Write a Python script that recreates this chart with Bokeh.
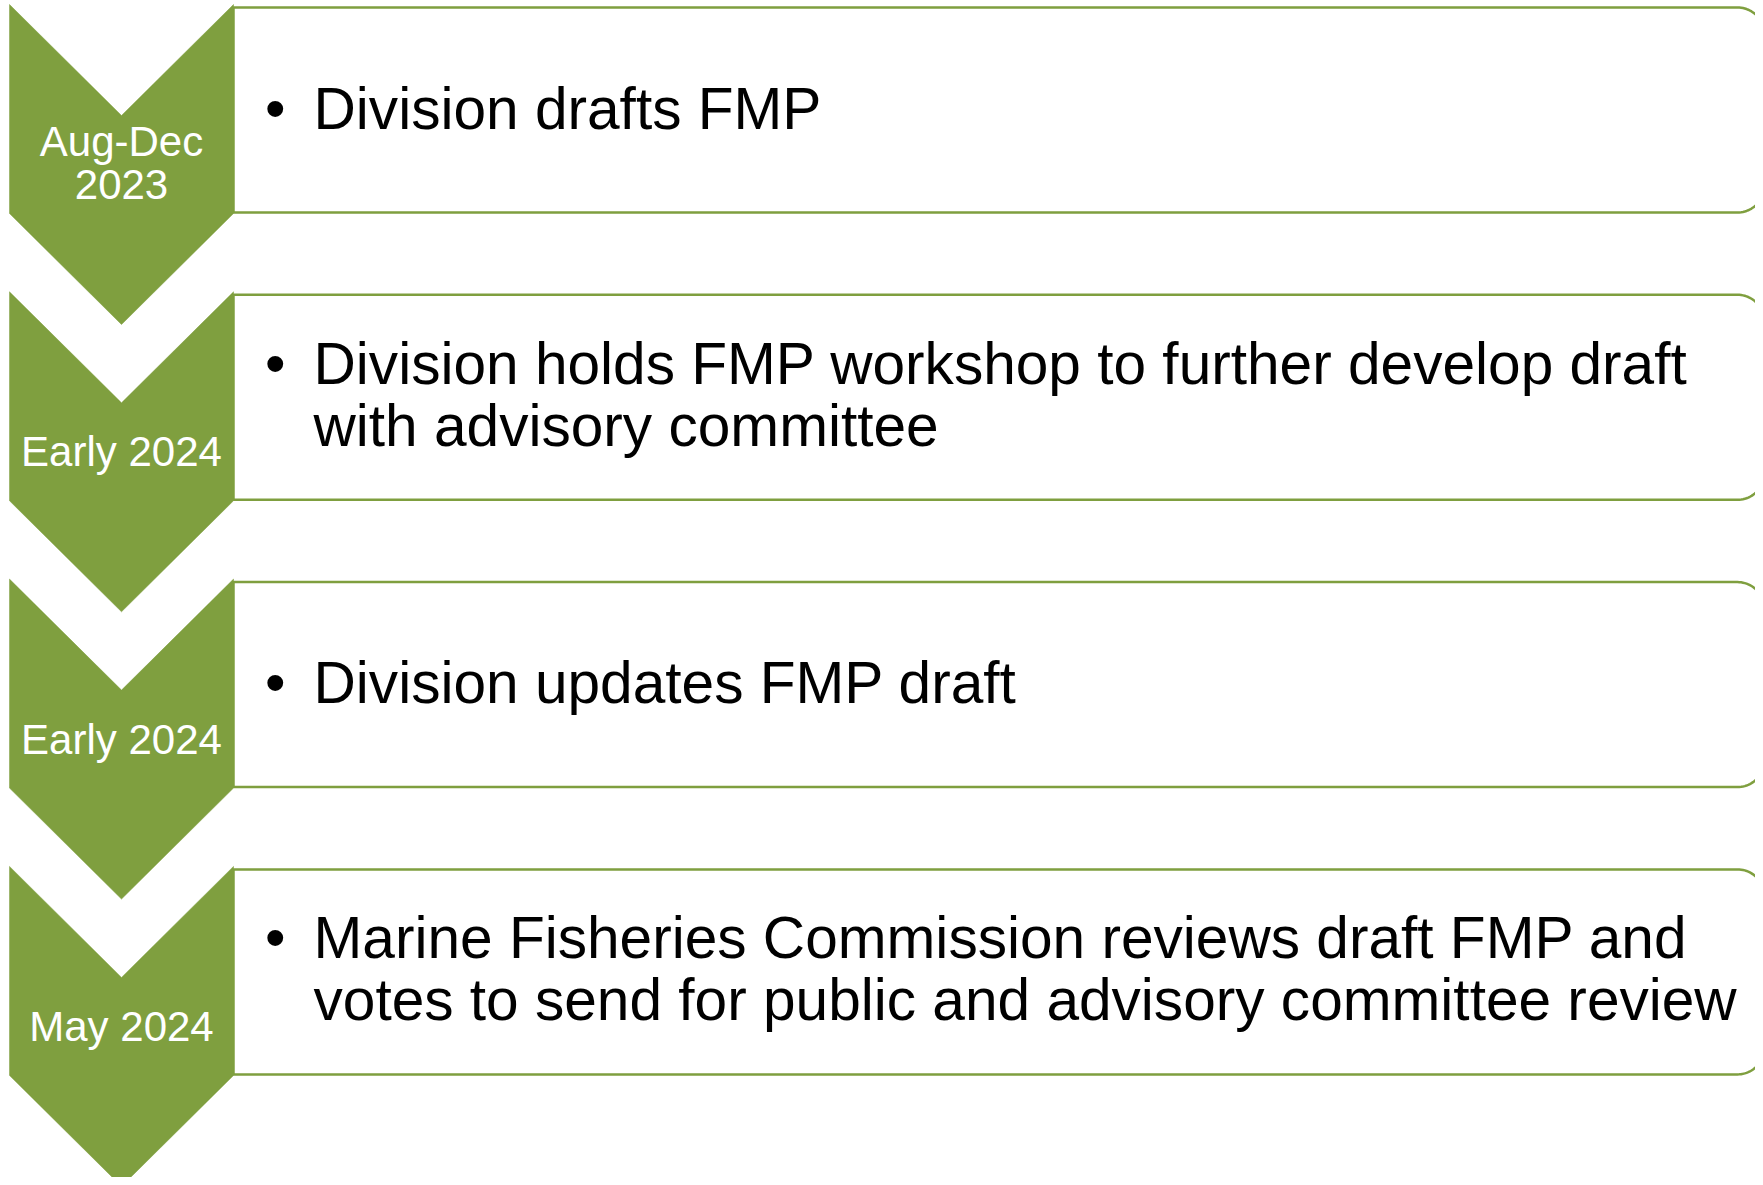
import numpy as np
from bokeh.plotting import figure
from bokeh.models import Range1d
from bokeh.core.properties import value
from bokeh.embed import file_html
from bokeh.resources import INLINE

# ---- content ----
periods = ["Aug-Dec\n2023", "Early 2024", "Early 2024", "May 2024"]
actions = [
    "Division drafts FMP",
    "Division holds FMP workshop to further develop draft\nwith advisory committee",
    "Division updates FMP draft",
    "Marine Fisheries Commission reviews draft FMP and\nvotes to send for public and advisory committee review",
]

# ---- style / layout ----
GREEN = "#7F9F3F"
FONT = "Liberation Sans"
STEP = 287.3
TOP0 = 4.0
CX, HALF, NOTCH, BODY, TIP = 121, 112, 111, 209, 320
BOX_L, BOX_R, RAD, BOX_T, BOX_B = 233, 1764, 27, 3, 208
LABEL_SIZE, LABEL_LH = 42, 43
TEXT_SIZE, TEXT_LH = 58.6, 62
TEXT_X, BULLET_X = 313, 264.5

p = figure(width=1755, height=1177, output_backend="svg", toolbar_location=None,
           x_range=Range1d(0, 1755), y_range=Range1d(1177, 0),
           x_axis_type=None, y_axis_type=None, min_border=0)
p.outline_line_color = None
p.grid.visible = False
p.background_fill_color = "white"

chev_xs, chev_ys, box_xs, box_ys = [], [], [], []
lab_x, lab_y, lab_t = [], [], []
txt_x, txt_y, txt_t = [], [], []
bul_x, bul_y = [], []

a1 = np.linspace(-np.pi / 2, 0, 24)
a2 = np.linspace(0, np.pi / 2, 24)
for i, (per, act) in enumerate(zip(periods, actions)):
    T = TOP0 + i * STEP
    chev_xs.append([CX - HALF, CX, CX + HALF, CX + HALF, CX, CX - HALF])
    chev_ys.append([T, T + NOTCH, T, T + BODY, T + TIP, T + BODY])
    top, bot = T + BOX_T, T + BOX_B
    bx = [BOX_L] + list(BOX_R - RAD + RAD * np.cos(a1)) + list(BOX_R - RAD + RAD * np.cos(a2)) + [BOX_L]
    by = [top] + list(top + RAD + RAD * np.sin(a1)) + list(bot - RAD + RAD * np.sin(a2)) + [bot]
    box_xs.append(bx)
    box_ys.append(by)

    # period label, centred between notch tip and body bottom
    lines = per.split("\n")
    n = len(lines)
    c = T + (NOTCH + BODY) / 2 - 2 * (n - 1)
    for k, ln in enumerate(lines):
        lab_x.append(CX)
        lab_y.append(c - (n - 1) * LABEL_LH / 2 + k * LABEL_LH)
        lab_t.append(ln)

    # bullet text, centred vertically in the box
    lines = act.split("\n")
    n = len(lines)
    c = T + 103.5 + 3 * (n - 1)
    for k, ln in enumerate(lines):
        yc = c - (n - 1) * 35 + k * TEXT_LH
        txt_x.append(TEXT_X)
        txt_y.append(yc)
        txt_t.append(ln)
        if k == 0:
            bul_x.append(BULLET_X)
            bul_y.append(yc)

p.patches(box_xs, box_ys, fill_color="white", line_color=GREEN, line_width=2.5)
p.patches(chev_xs, chev_ys, fill_color=GREEN, line_color=GREEN, line_width=0.5)

p.text(x=lab_x, y=lab_y, text=lab_t, text_font=value(FONT), text_font_size=f"{LABEL_SIZE}px",
       text_color="white", text_align="center", text_baseline="alphabetic")
p.text(x=txt_x, y=txt_y, text=txt_t, text_font=value(FONT), text_font_size=f"{TEXT_SIZE}px",
       text_color="black", text_align="left", text_baseline="alphabetic")
p.text(x=bul_x, y=bul_y, text=["\u2022"] * len(bul_x), text_font=value(FONT),
       text_font_size=f"{TEXT_SIZE}px", text_color="black", text_align="left",
       text_baseline="alphabetic")

open("out.html", "w").write(file_html(p, INLINE))
